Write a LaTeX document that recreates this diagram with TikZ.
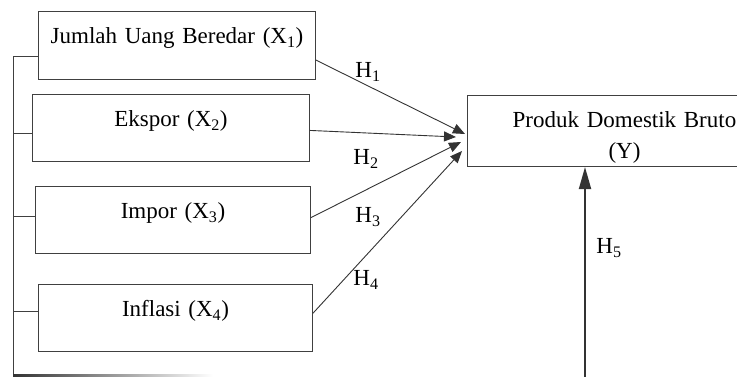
\documentclass[tikz,border=0pt]{standalone}
\usepackage{fontspec}
\setmainfont{Liberation Serif}
\usetikzlibrary{arrows.meta}
\begin{document}
\begin{tikzpicture}
[x=1pt,y=-1pt,
  boxDecorate/.style={draw=black!75,line width=1pt,inner sep=0pt,anchor=north west,
    text height=32pt,align=center,font=\fontsize{23}{31}\selectfont},
  arrowDecorate/.style={-{Triangle[length=12pt,width=10pt]},draw=black!80,line width=0.9pt},
  railDecorate/.style={draw=black!75,line width=1pt},
  labelDecorate/.style={font=\fontsize{23}{27}\selectfont,inner sep=0pt}]
\useasboundingbox (0,0) rectangle (737,376);
\clip (0,0) rectangle (737,376);
%% boxes
\foreach \nodename/\x/\y/\w/\d/\txt in {
  x1/38/11/277/36/{Jumlah Uang Beredar (X\textsubscript{1})},
  x2/32/94/277/35/{Ekspor (X\textsubscript{2})},
  x3/35/186/275/35/{Impor (X\textsubscript{3})},
  x4/38/284/274/35/{Inflasi (X\textsubscript{4})}}
{
  \node (\nodename) at (\x,\y) [boxDecorate,text width=\w pt,text depth=\d pt] {\txt};
}
\node (y) at (467,95) [boxDecorate,text width=314pt,text depth=39pt]
  {Produk Domestik Bruto\\(Y)};
%% arrow tips
\foreach \tipname/\x/\y in {t1/465/134, t2/456/137, t3/461/142, t4/462/151}
{
  \coordinate (\tipname) at (\x,\y);
}
%% arrows
\foreach \startnode/\ang/\tipname in {x1/-6/t1, x2/-1/t2, x3/1/t3, x4/2/t4}
{
  \draw[arrowDecorate] (\startnode.\ang) -- (\tipname);
}
\coordinate (h5foot) at (585,380);
\draw[arrowDecorate,line width=1.8pt,-{Triangle[length=22pt,width=12pt]}]
  (h5foot) -- (h5foot |- y.south);
%% labels
\foreach \labelname/\x/\y/\txt in {
  h1/368/72/{H\textsubscript{1}}, h2/366/159/{H\textsubscript{2}},
  h3/368/217/{H\textsubscript{3}}, h4/366/280/{H\textsubscript{4}},
  h5/609/248/{H\textsubscript{5}}}
{
  \node (\labelname) at (\x,\y) [labelDecorate] {\txt};
}
%% rail on the left
\coordinate (railtop) at (13,56);
\coordinate (railbot) at (13,375);
\draw[railDecorate] (x1.west |- railtop) -- (railtop) -- (railbot);
\foreach \boxname/\y in {x2/133, x3/216, x4/311}
{
  \draw[railDecorate] (13,\y) -- (\boxname.west |- 0,\y);
}
\shade[left color=black!80,right color=white] (railbot) ++(0,-1) rectangle ++(200,2);
\end{tikzpicture}
\end{document}
